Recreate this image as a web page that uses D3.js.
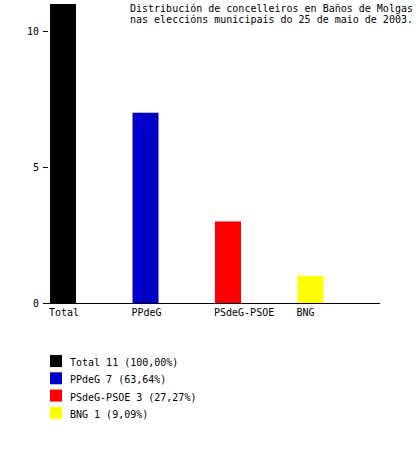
<!DOCTYPE html>
<html><head><meta charset="utf-8">
<script src="https://cdn.jsdelivr.net/npm/d3@7"></script>
<style>body{margin:0;background:#fff}text{font-family:"DejaVu Sans Mono",monospace;font-size:10px}</style>
</head><body>
<script>
const categories=["Total","PPdeG","PSdeG-PSOE","BNG"];
const values=[11,7,3,1];
const colors=["#000000","#0000c8","#ff0000","#ffff00"];
const legendLabels=["Total 11 (100,00%)","PPdeG 7 (63,64%)","PSdeG-PSOE 3 (27,27%)","BNG 1 (9,09%)"];
const yTicks=[0,5,10];
const svg=d3.select("body").append("svg").attr("width",420).attr("height",453);
const y=d3.scaleLinear().domain([0,11]).range([303,4]);
const x=d3.scaleBand().domain(categories).range([50,323.5]).paddingInner(0.685).paddingOuter(0).align(0);
svg.selectAll("rect.bar").data(values).join("rect").attr("class","bar")
 .attr("x",(d,i)=>x(categories[i])).attr("width",x.bandwidth())
 .attr("y",d=>y(d)).attr("height",d=>y(0)-y(d)).attr("fill",(d,i)=>colors[i]);
svg.append("line").attr("x1",47).attr("x2",380).attr("y1",303.5).attr("y2",303.5).attr("stroke","#000");
yTicks.forEach(t=>{
 svg.append("line").attr("x1",43).attr("x2",48).attr("y1",Math.round(y(t))+0.5).attr("y2",Math.round(y(t))+0.5).attr("stroke","#000");
 svg.append("text").attr("x",39).attr("y",y(t)+4).attr("text-anchor","end").text(t);
});
categories.forEach(c=>svg.append("text").attr("x",x(c)-1).attr("y",316).text(c));
svg.append("text").attr("x",130).attr("y",12).text("Distribución de concelleiros en Baños de Molgas");
svg.append("text").attr("x",130).attr("y",23).text("nas eleccións municipais do 25 de maio de 2003.");
legendLabels.forEach((l,i)=>{
 svg.append("rect").attr("x",50).attr("y",355+i*17.3).attr("width",12).attr("height",12).attr("fill",colors[i]);
 svg.append("text").attr("x",70).attr("y",366+i*17.3).text(l);
});
</script></body></html>
